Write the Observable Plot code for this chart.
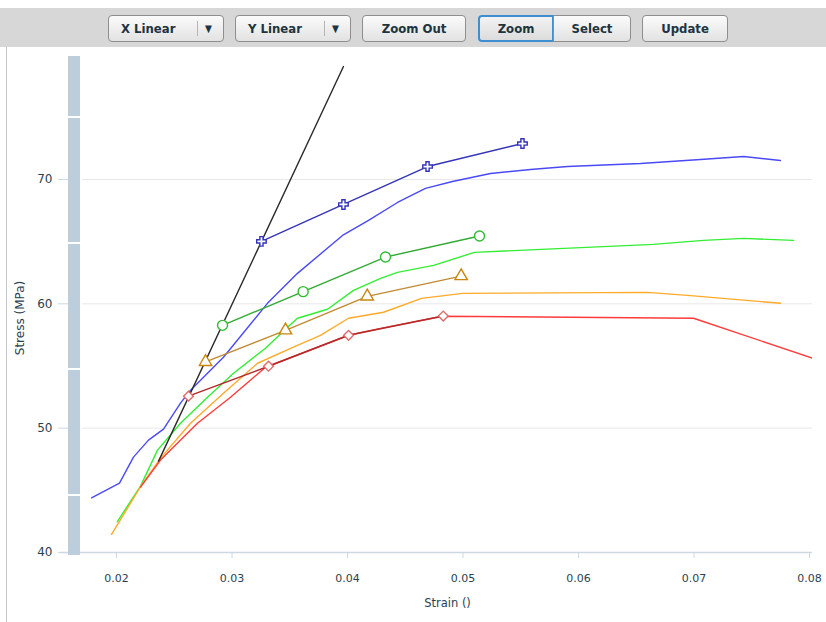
<!DOCTYPE html>
<html>
<head>
<meta charset="utf-8">
<script src="https://cdn.jsdelivr.net/npm/d3@7"></script>
<script src="https://cdn.jsdelivr.net/npm/@observablehq/plot@0.6"></script>
<style>
  html, body { margin: 0; padding: 0; background: #fff; }
  #wrap { position: relative; width: 826px; height: 622px; overflow: hidden; background: #fff; }
  #toolbar { position: absolute; left: 0; top: 8px; width: 826px; height: 39px; background: #d7d7d7; }
  .btn { position: absolute; top: 7px; height: 27px; box-sizing: border-box; border: 1px solid #8e8e8e; border-radius: 4px;
         background: linear-gradient(#fbfbfb, #e2e2e2); font: bold 13px "DejaVu Sans Condensed", "DejaVu Sans", sans-serif;
         color: #1c3440; display: flex; align-items: center; justify-content: center; }
  .btn .sep { position: absolute; top: 5px; bottom: 5px; width: 1px; background: #b5b5b5; }
  .btn .arr { position: absolute; font-size: 10px; }
  #panelBorder { position: absolute; left: 6px; top: 47px; width: 1px; height: 575px; background: #c8c8c8; }
  #chart { position: absolute; left: 0; top: 47px; }
  #vbar { position: absolute; left: 68px; top: 56px; width: 12px; height: 499px; background: #bccddc; }
  .vsep { position: absolute; left: 68px; width: 12px; height: 2px; background: #fff; }
  #ytitle { position: absolute; left: 20px; top: 318px; transform: translate(-50%, -50%) rotate(-90deg);
            font: 12px "DejaVu Sans", sans-serif; color: #2b3f4f; white-space: nowrap; }
</style>
</head>
<body>
<div id="wrap">
  <div id="toolbar">
    <div class="btn" style="left:108px;width:116px;justify-content:flex-start;padding-left:12px">X Linear<span class="sep" style="left:88px"></span><span class="arr" style="left:96px">▼</span></div>
    <div class="btn" style="left:235px;width:116px;justify-content:flex-start;padding-left:12px">Y Linear<span class="sep" style="left:88px"></span><span class="arr" style="left:96px">▼</span></div>
    <div class="btn" style="left:362px;width:104px">Zoom Out</div>
    <div class="btn" style="left:478px;width:76px;border:2px solid #3d8fd1;border-radius:4px 0 0 4px;background:linear-gradient(#f3f3f3,#dcdcdc)">Zoom</div>
    <div class="btn" style="left:553px;width:78px;border-radius:0 4px 4px 0">Select</div>
    <div class="btn" style="left:642px;width:86px">Update</div>
  </div>
  <div id="panelBorder"></div>
  <div id="chart"></div>
  <div id="vbar"></div>
  <div class="vsep" style="top:116px"></div>
  <div class="vsep" style="top:242px"></div>
  <div class="vsep" style="top:368px"></div>
  <div class="vsep" style="top:494px"></div>
  <div id="ytitle">Stress (MPa)</div>
</div>
<script>
// ---- data (strain, stress in MPa) ----
const xTicks = [0.02, 0.03, 0.04, 0.05, 0.06, 0.07, 0.08];
const yTicks = [40, 50, 60, 70];

const blueStrain = [0.01784, 0.02026, 0.02147, 0.02277, 0.02407, 0.02554, 0.02641, 0.02926, 0.03307, 0.03567, 0.03957, 0.04182, 0.04433, 0.04675, 0.04909, 0.05238, 0.05584, 0.05905, 0.06537, 0.07056, 0.07429, 0.07749];
const blueStress = [44.40, 45.58, 47.67, 49.04, 49.92, 52.01, 53.05, 55.70, 60.04, 62.45, 65.50, 66.71, 68.15, 69.28, 69.84, 70.48, 70.80, 71.04, 71.29, 71.61, 71.85, 71.53];

const greenStrain = [0.02006, 0.02208, 0.02355, 0.02554, 0.02788, 0.03013, 0.03290, 0.03481, 0.03567, 0.03827, 0.04052, 0.04286, 0.04433, 0.04745, 0.05100, 0.06649, 0.07082, 0.07429, 0.07861];
const greenStress = [42.47, 45.34, 48.23, 50.40, 52.49, 54.42, 56.43, 58.11, 58.84, 59.56, 61.08, 62.05, 62.53, 63.09, 64.14, 64.78, 65.10, 65.26, 65.10];

const orangeStrain = [0.01957, 0.02208, 0.02381, 0.02641, 0.02926, 0.03221, 0.03532, 0.03766, 0.04009, 0.04312, 0.04641, 0.04996, 0.06597, 0.06944, 0.07749];
const orangeStress = [41.46, 45.29, 47.59, 50.40, 52.81, 55.22, 56.51, 57.47, 58.84, 59.32, 60.44, 60.84, 60.92, 60.68, 60.04];

const redStrain = [0.02208, 0.02381, 0.02701, 0.02987, 0.03290, 0.04009, 0.04286, 0.04823, 0.06996, 0.08100];
const redStress = [45.26, 47.43, 50.40, 52.49, 54.90, 57.47, 58.03, 59.00, 58.84, 55.40];

const modulusStrain = [0.02364, 0.03965];
const modulusStress = [47.35, 79.08];

const crossStrain = [0.03255, 0.03965, 0.04693, 0.05515];
const crossStress = [65.02, 67.99, 71.04, 72.89];

const circleStrain = [0.02918, 0.03616, 0.04329, 0.05143];
const circleStress = [58.27, 60.98, 63.76, 65.45];

const triangleStrain = [0.02771, 0.03463, 0.04171, 0.04984];
const triangleStress = [55.33, 57.87, 60.60, 62.23];

const diamondStrain = [0.02623, 0.03316, 0.04009, 0.04829];
const diamondStress = [52.57, 54.98, 57.47, 59.02];

const pts = (xs, ys) => xs.map((x, i) => ({x, y: ys[i]}));

const solid = [
  {d: pts(blueStrain, blueStress), c: "#4a4af5"},
  {d: pts(greenStrain, greenStress), c: "#33ee33"},
  {d: pts(orangeStrain, orangeStress), c: "#ffaa2a"},
  {d: pts(redStrain, redStress), c: "#ff3b3b"}
];
const marked = [
  {d: pts(crossStrain, crossStress), c: "#3434b8", m: "#3333bb", s: "cross", r: 4},
  {d: pts(circleStrain, circleStress), c: "#33aa33", m: "#33bb33", s: "circle", r: 5},
  {d: pts(triangleStrain, triangleStress), c: "#c08a33", m: "#c8860f", s: "triangle", r: 4.6},
  {d: pts(diamondStrain, diamondStress), c: "#b32a2a", m: "#e06a6a", s: "diamond2", r: 4.4}
];

const marks = [
  Plot.gridY([50, 60, 70], {stroke: "#e8e8e8", strokeOpacity: 1}),
  Plot.ruleY([40], {x1: 0.01515, x2: 0.08026, stroke: "#cdd8e3", strokeWidth: 1.5, clip: false}),
  Plot.axisX(xTicks, {tickFormat: d3.format(".2f"), tickSize: 6, tickPadding: 16, stroke: "#cdd8e3",
    color: "#2b3f4f", fontSize: 11, label: null}),
  Plot.axisY(yTicks, {tickSize: 10, tickPadding: 6, dx: -14, stroke: "#cdd8e3", color: "#2b3f4f", fontSize: 12, label: null}),
  Plot.text(["Strain ()"], {frameAnchor: "bottom", dy: 54, fill: "#2b3f4f", fontSize: 11.5})
];
for (const s of solid) marks.push(Plot.line(s.d, {x: "x", y: "y", stroke: s.c, strokeWidth: 1.4, clip: true}));
marks.push(Plot.line(pts(modulusStrain, modulusStress), {x: "x", y: "y", stroke: "#2a2a2a", strokeWidth: 1.4, clip: true}));
for (const s of marked) {
  marks.push(Plot.line(s.d, {x: "x", y: "y", stroke: s.c, strokeWidth: 1.4}));
  marks.push(Plot.dot(s.d, {x: "x", y: "y", symbol: () => s.s, r: s.r, stroke: s.m, fill: "#fff", strokeWidth: 1.4}));
}

const chart = Plot.plot({
  width: 826,
  height: 575,
  marginTop: 10,
  marginBottom: 70,
  marginLeft: 82,
  marginRight: 14,
  style: {fontFamily: "DejaVu Sans, sans-serif", background: "transparent"},
  x: {domain: [0.017056, 0.08026], axis: null},
  y: {domain: [40, 79.81], axis: null},
  symbol: {type: "identity"},
  marks
});
document.getElementById("chart").appendChild(chart);
</script>
</body>
</html>
